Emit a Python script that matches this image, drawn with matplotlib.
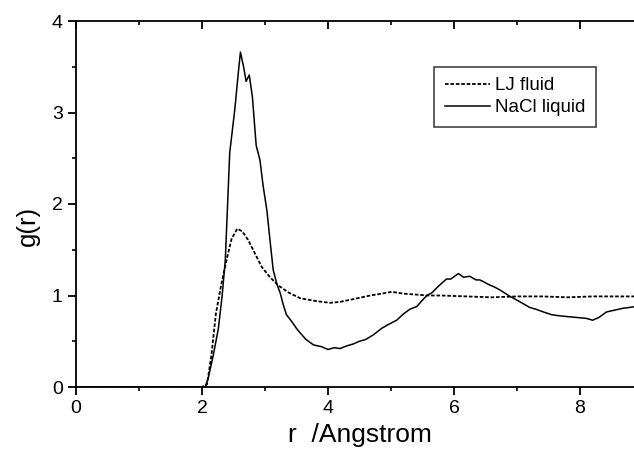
import matplotlib.pyplot as plt
from matplotlib.ticker import FixedLocator, MultipleLocator

plt.rcParams['font.family'] = ['Liberation Sans', 'DejaVu Sans']

# LJ fluid g(r)
lj_r = [0.0, 2.0, 2.08, 2.15, 2.22, 2.3, 2.39, 2.47, 2.56, 2.64, 2.73, 2.84, 2.95,
        3.08, 3.21, 3.38, 3.56, 3.8, 4.03, 4.19, 4.4, 4.67, 4.85, 5.01, 5.2,
        5.4, 5.57, 5.8, 6.2, 6.6, 7.0, 7.4, 7.8, 8.2, 8.6, 9.0, 10.0]
lj_g = [0.0, 0.0, 0.03, 0.35, 0.8, 1.1, 1.39, 1.62, 1.73, 1.7, 1.61, 1.46, 1.31,
        1.2, 1.11, 1.03, 0.97, 0.94, 0.92, 0.93, 0.96, 1.0, 1.02, 1.04, 1.02,
        1.01, 1.0, 1.0, 0.99, 0.98, 0.99, 0.99, 0.98, 0.99, 0.99, 0.99, 0.99]

# NaCl liquid g(r)
nacl_r = [0.0, 2.05, 2.1, 2.18, 2.26, 2.32, 2.37, 2.44, 2.52, 2.58, 2.61, 2.66,
          2.70, 2.75, 2.80, 2.86, 2.92, 2.97, 3.03, 3.08, 3.13, 3.19, 3.24, 3.29,
          3.34, 3.42, 3.50, 3.56, 3.65, 3.77, 3.9, 4.0, 4.1, 4.19, 4.3, 4.4,
          4.5, 4.6, 4.72, 4.85, 4.95, 5.09, 5.2, 5.3, 5.41, 5.5, 5.57, 5.65,
          5.75, 5.88, 5.95, 6.07, 6.15, 6.25, 6.35, 6.41, 6.47, 6.55, 6.65,
          6.73, 6.89, 7.05, 7.2, 7.3, 7.42, 7.55, 7.65, 7.79, 7.95, 8.1, 8.2,
          8.3, 8.42, 8.55, 8.68, 8.79, 8.9, 9.2, 10.0]
nacl_g = [0.0, 0.0, 0.1, 0.35, 0.64, 1.0, 1.39, 2.56, 3.03, 3.46, 3.66, 3.5,
          3.34, 3.41, 3.17, 2.64, 2.48, 2.2, 1.93, 1.6, 1.28, 1.12, 1.03, 0.9,
          0.79, 0.72, 0.64, 0.59, 0.52, 0.46, 0.44, 0.41, 0.43, 0.42, 0.45, 0.47,
          0.5, 0.52, 0.57, 0.64, 0.68, 0.73, 0.8, 0.85, 0.88, 0.95, 1.0, 1.03,
          1.1, 1.18, 1.18, 1.24, 1.2, 1.21, 1.17, 1.17, 1.15, 1.12, 1.09,
          1.06, 0.99, 0.93, 0.87, 0.85, 0.82, 0.79, 0.78, 0.77, 0.76, 0.75, 0.73,
          0.76, 0.82, 0.84, 0.86, 0.87, 0.88, 0.9, 0.95]

x_major = [0, 2, 4, 6, 8]
x_minor = [1, 3, 5, 7, 9]

fig = plt.figure(figsize=(6.34, 4.55), dpi=100)
# axes run past the right edge, like the cropped original
ax = fig.add_axes([76 / 634, 68 / 455, 630 / 634, 366 / 455])

ax.plot(lj_r, lj_g, color='black', lw=1.3, ls=(0, (2, 1)), label='LJ fluid')
ax.plot(nacl_r, nacl_g, color='black', lw=1.1, label='NaCl liquid')

ax.set_xlim(0, 10)
ax.set_ylim(0, 4)
ax.xaxis.set_major_locator(FixedLocator(x_major))
ax.xaxis.set_minor_locator(FixedLocator(x_minor))
ax.yaxis.set_major_locator(MultipleLocator(1))
ax.yaxis.set_minor_locator(MultipleLocator(0.5))

for s in ax.spines.values():
    s.set_linewidth(1.3)
ax.spines['right'].set_visible(False)

ax.tick_params(axis='both', which='major', direction='out', length=6, width=1.3,
               labelsize=14)
ax.tick_params(axis='both', which='minor', direction='out', length=3, width=1.2)

# top axis ticks point inwards
axt = ax.twiny()
axt.set_xlim(ax.get_xlim())
axt.xaxis.set_major_locator(FixedLocator(x_major))
axt.xaxis.set_minor_locator(FixedLocator(x_minor))
axt.tick_params(axis='x', which='major', direction='in', length=6, width=1.3,
                labeltop=False)
axt.tick_params(axis='x', which='minor', direction='in', length=3, width=1.2)
for s in axt.spines.values():
    s.set_visible(False)

ax.set_xlabel('r  /Angstrom', fontsize=19)
ax.xaxis.set_label_coords((360 - 76) / 630, -0.097)
ax.xaxis.label.set_va('top')
ax.set_ylabel('g(r)', fontsize=18.5)
ax.yaxis.set_label_coords(-0.057, 0.44)

leg = fig.legend(loc='upper right', bbox_to_anchor=(596 / 634, 1 - 67 / 455),
                 borderaxespad=0, fontsize=13.5, frameon=True, fancybox=False,
                 handlelength=2.4, borderpad=0.55, labelspacing=0.25,
                 handletextpad=0.3)
leg.get_frame().set_edgecolor('black')
leg.get_frame().set_linewidth(1.1)

fig.savefig('out.png', dpi=100)
